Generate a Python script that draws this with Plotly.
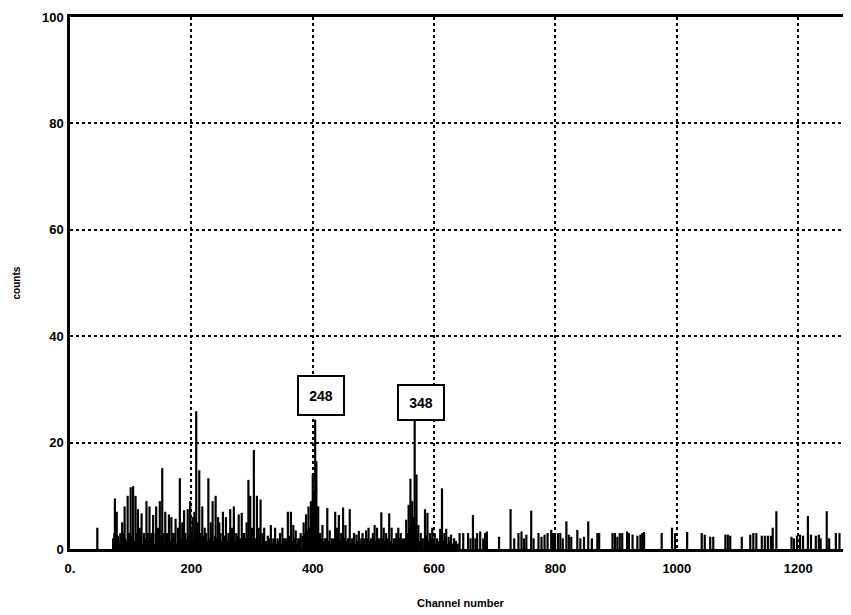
import plotly.graph_objects as go

# Peak / spike readings (channel, counts)
peak_channels = [45, 74, 77, 80, 83, 86, 90, 95, 100, 104, 108, 112, 115, 118, 122, 126, 131, 134, 137, 142, 145, 148,
                 152, 157, 160, 163, 167, 171, 174, 178, 181, 185, 188, 194, 198, 202, 205, 208, 211, 213, 218, 222,
                 228, 232, 235, 240, 244, 246, 252, 257, 261, 264, 267, 270, 274, 278, 283, 287, 291, 294, 297, 300,
                 303, 308, 311, 314, 317, 320, 326, 331, 335, 338, 342, 346, 350, 354, 359, 364, 368, 372, 376, 380,
                 385, 389, 393, 397, 400, 402, 404, 406, 409, 412, 416, 420, 424, 428, 432, 437, 440, 443, 447, 450,
                 454, 458, 461, 465, 468, 472, 476, 480, 482, 485, 488, 492, 496, 499, 502, 506, 510, 513, 517, 521,
                 526, 530, 534, 538, 541, 545, 549, 554, 558, 561, 564, 568, 571, 574, 578, 581, 585, 589, 593, 597,
                 601, 605, 610, 613, 617, 620, 624, 628, 633, 642, 648, 656, 660, 664, 668, 671, 676, 681, 684, 687,
                 707, 726, 732, 739, 744, 748, 752, 760, 764, 772, 777, 782, 787, 793, 796, 799, 804, 808, 812, 818,
                 822, 826, 836, 841, 847, 854, 860, 869, 872, 894, 898, 902, 906, 910, 918, 921, 927, 935, 940, 943,
                 946, 975, 992, 997, 1017, 1041, 1046, 1055, 1060, 1080, 1084, 1088, 1107, 1121, 1126, 1131, 1140,
                 1145, 1150, 1155, 1158, 1164, 1189, 1193, 1198, 1203, 1208, 1216, 1221, 1229, 1234, 1237, 1247,
                 1251, 1262, 1268]
peak_counts = [4, 9.5, 7, 2, 3, 5, 8, 10, 11.6, 11.8, 10, 7.5, 4, 6.7, 3, 9, 8, 3, 6.4, 8, 4, 9,
               15.2, 7, 3, 6.5, 6, 3, 5.7, 4, 13.3, 5, 7.3, 7.5, 9, 6, 7, 25.9, 5, 14.8, 8, 4,
               13.3, 5, 9, 10, 6, 5, 7, 6, 3, 7.5, 4, 8, 3, 6.5, 6.8, 3, 5, 13, 10, 4,
               18.6, 10, 4, 9.3, 3, 4, 2.5, 4.5, 2, 4, 2, 3, 4, 2, 7, 7, 4.5, 3.5, 2, 3,
               5, 6.5, 8, 9, 14, 11, 24.3, 16.5, 8, 3, 4.5, 2, 7.7, 3.5, 2, 7, 4, 6.4, 3, 7.8,
               4.5, 2, 7.5, 2, 3, 2.7, 3.4, 2, 3, 2, 3.5, 4, 2, 3, 4.5, 4, 2, 6.9, 4, 3,
               6.7, 4, 2, 3, 4, 3, 2, 5.5, 8.3, 13.2, 9, 24.6, 14, 4.5, 3, 2, 7.5, 6.8, 3, 4,
               3, 2, 3.8, 11.4, 3, 3.8, 2.3, 2.7, 2, 3, 3, 3, 2, 6.4, 2, 3, 3.3, 2, 3, 3.3,
               2.3, 7.5, 2, 3, 3.3, 2, 2.7, 7.2, 2, 3, 2.3, 2.7, 3, 3.6, 3, 3, 3, 3, 2, 5.2,
               2.7, 2.3, 3.6, 2, 2.3, 5.2, 2, 3, 3, 3, 3, 2.3, 3, 3, 3.3, 3, 2.7, 2.5, 2.7, 3,
               3.2, 3, 4, 3, 3.2, 3, 2.7, 2.3, 2.3, 2.7, 2.7, 2.5, 2.3, 2.7, 3, 3, 2.5,
               2.5, 2.5, 2.5, 4, 7.1, 2.3, 2, 2.5, 2.7, 2.5, 6.2, 2.7, 2.5, 2.7, 2, 7.1,
               2, 3, 3]

# Dense low-level counts in the busy region
low_channels = [71, 73, 76, 79, 82, 85, 88, 91, 94, 97, 99, 102, 106, 110, 113, 117, 120, 124, 128, 130, 133, 136,
                139, 141, 144, 147, 150, 154, 156, 159, 162, 165, 169, 172, 176, 180, 183, 187, 190, 192, 196, 200,
                204, 207, 210, 215, 217, 220, 224, 226, 230, 234, 237, 239, 242, 248, 250, 254, 256, 259, 263, 266,
                269, 272, 276, 280, 282, 285, 289, 292, 296, 299, 302, 306, 310, 313, 316, 319, 323, 328, 333, 337,
                340, 344, 348, 352, 356, 358, 362, 366, 370, 374, 378, 383, 387, 391, 395, 399, 403, 408, 411, 414,
                418, 422, 426, 430, 435, 439, 442, 446, 449, 452, 456, 460, 463, 467, 470, 474, 478, 484, 487, 490,
                494, 498, 501, 504, 508, 512, 515, 519, 523, 528, 532, 536, 540, 543, 547, 552, 556, 560, 563, 566,
                570, 573, 576, 580, 584, 587, 591, 595, 599, 603, 607, 611, 615, 619, 622, 626, 631, 636, 639]
low_counts = [2, 3, 1.5, 2.5, 1, 2, 3, 2, 1.5, 3, 2, 2.5, 1.5, 3, 2, 2.5, 1, 2, 3, 1.5, 2, 2.5,
              1, 3, 2, 1.5, 2.5, 3, 1, 2, 2.5, 1.5, 3, 2, 1, 2.5, 2, 1.5, 3, 2, 2.5, 3.5,
              2, 3, 2.5, 3, 2, 2.5, 3, 1.5, 2, 3, 1.5, 2.5, 2, 3, 1.5, 2.5, 2, 1.5, 2, 3,
              2, 1.5, 2.5, 2, 1, 3, 2, 2.5, 2, 1.5, 3, 2, 1.5, 2.5, 1, 2, 1.5, 2, 1, 1.5,
              1, 1.5, 1, 2, 1.5, 2, 2.5, 1.5, 2, 1, 2, 2.5, 3, 3.5, 4, 5, 6, 4, 2, 2,
              1.5, 2, 1.5, 1, 2, 1.5, 2, 1.5, 2, 2, 1.5, 2, 1, 1.5, 1, 1.5, 1, 1.5, 1, 2,
              1.5, 1, 2, 1.5, 2, 1, 2, 1.5, 2, 1.5, 1, 2, 1.5, 2, 1.5, 2, 3, 4, 5, 6,
              5, 2, 1.5, 1, 2, 2.5, 1.5, 2, 1.5, 1, 1.5, 2, 1.5, 2, 1, 1.5, 1, 1.5, 1]

x_tick_vals = [0, 200, 400, 600, 800, 1000, 1200]
x_tick_text = ["0.", "200", "400", "600", "800", "1000", "1200"]
y_tick_vals = [0, 20, 40, 60, 80, 100]

peak_labels = ["248", "348"]
peak_label_x = [413, 579]
peak_label_y = [28.8, 27.5]
peak_box_h = [33, 29]

# build vertical spike paths from the readings
all_ch = list(low_channels) + list(peak_channels)
all_ct = list(low_counts) + list(peak_counts)
xs, ys = [], []
for c, v in zip(all_ch, all_ct):
    xs += [c, c, None]
    ys += [0, v, None]

fig = go.Figure()
fig.add_trace(go.Scatter(x=xs, y=ys, mode="lines", line=dict(color="black", width=2.2),
                         hoverinfo="skip", showlegend=False))

tick_font = dict(family="Liberation Sans, Arial", size=13, color="black", weight="bold")

fig.update_layout(
    width=843, height=607,
    margin=dict(l=62, r=0, t=9, b=66),
    paper_bgcolor="white", plot_bgcolor="white",
    showlegend=False,
    xaxis=dict(range=[0, 1287], tickvals=x_tick_vals, ticktext=x_tick_text, automargin=False,
               showgrid=True, gridcolor="black", griddash="dot", gridwidth=1.5,
               showline=True, linecolor="black", linewidth=2.5, mirror=True,
               zeroline=False, ticks="", ticklabelstandoff=6, tickfont=tick_font),
    yaxis=dict(range=[0, 100], tickvals=y_tick_vals, automargin=False,
               showgrid=True, gridcolor="black", griddash="dot", gridwidth=1.5,
               showline=True, linecolor="black", linewidth=2.5, mirror=False,
               zeroline=False, ticks="", ticklabelstandoff=1, tickfont=tick_font),
)

for t, x, y, h in zip(peak_labels, peak_label_x, peak_label_y, peak_box_h):
    fig.add_annotation(x=x, y=y, text=t, showarrow=False,
                       font=dict(family="Liberation Sans, Arial", size=14, color="black", weight="bold"),
                       bgcolor="white", bordercolor="black", borderwidth=2,
                       width=40, height=h, borderpad=2)

fig.add_annotation(xref="paper", yref="paper", x=0.5, y=0, yshift=-62, text="Channel number",
                   showarrow=False, font=dict(family="Liberation Sans, Arial", size=11, color="black", weight="bold"))
fig.add_annotation(xref="paper", yref="paper", x=0, xshift=-62, y=0.5, text="counts", textangle=-90,
                   showarrow=False, font=dict(family="Liberation Sans, Arial", size=10, color="black", weight="bold"))

fig.write_html("out.html")
